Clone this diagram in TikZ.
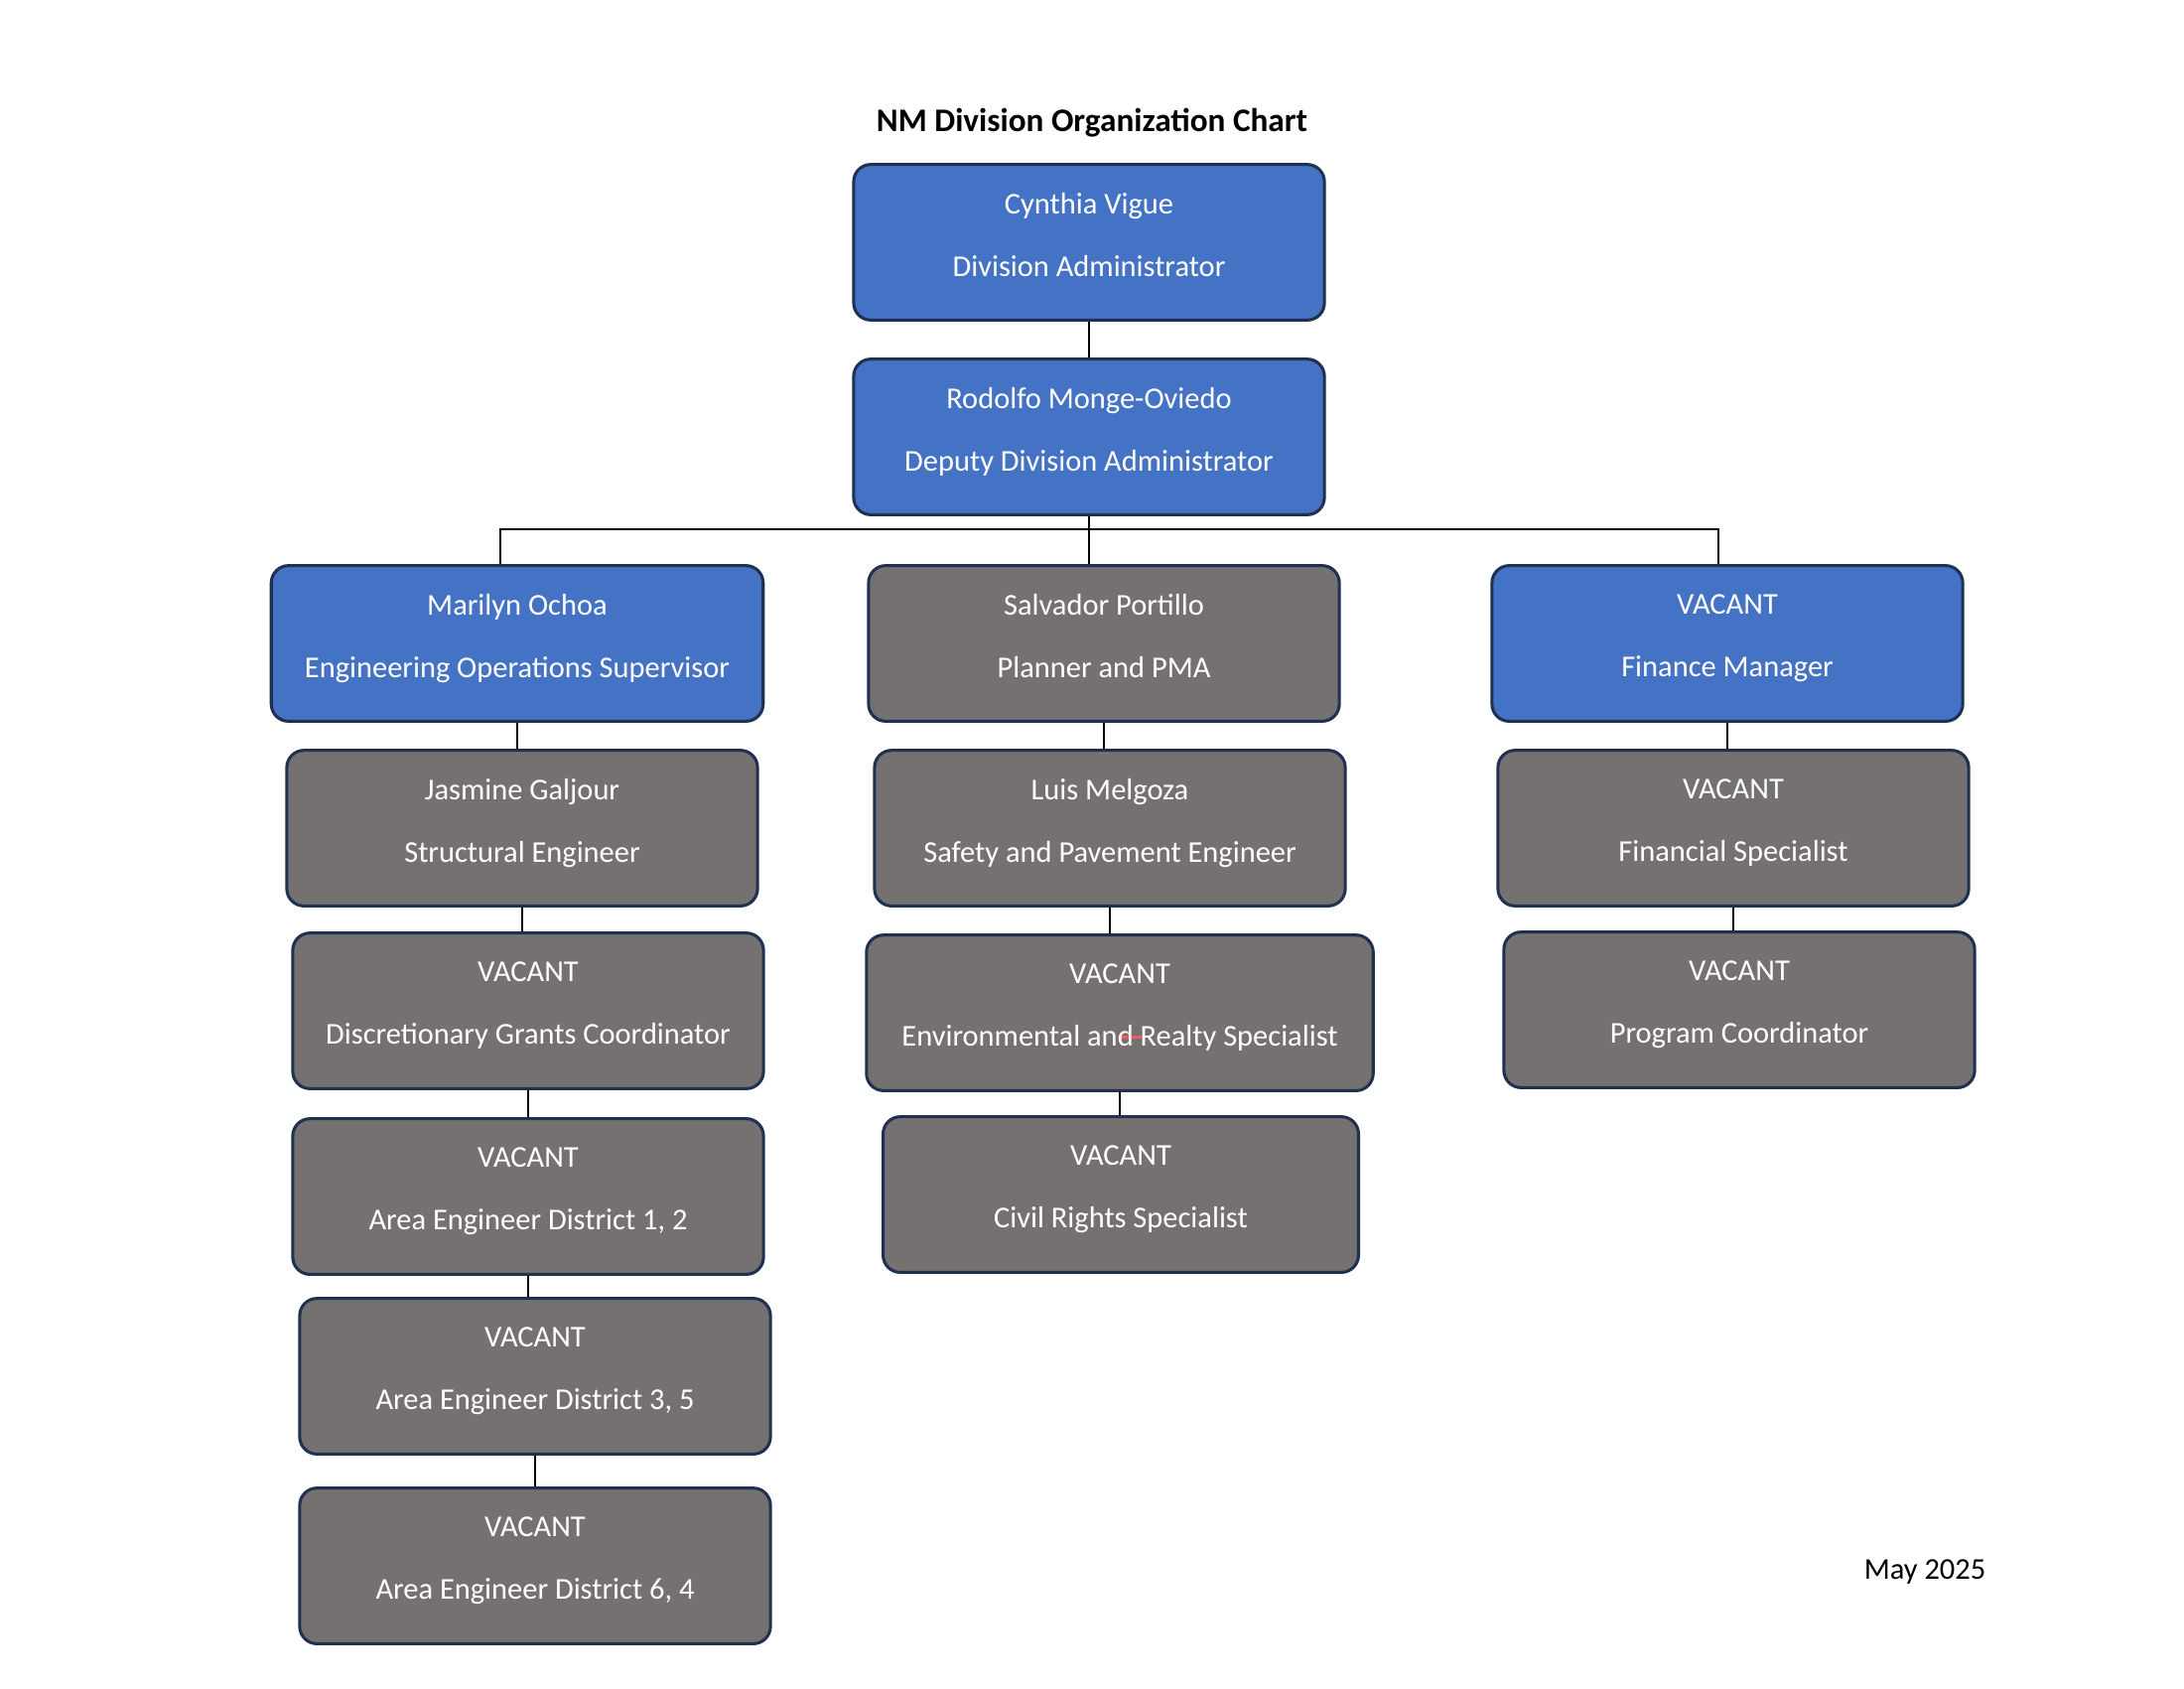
\documentclass[tikz,border=0pt]{standalone}
\usepackage{fontspec}
\setmainfont{Carlito}
\definecolor{boxblue}{HTML}{4472C4}
\definecolor{boxgray}{HTML}{767171}
\definecolor{boxline}{HTML}{1F3050}
\newcommand{\postname}[2]{#1\\[9.2pt]#2\\[-8pt]\mbox{}}
\tikzset{
  post/.style={draw=boxline, line width=1.1pt, rounded corners=0.22cm, text=white,
    align=center, minimum width=6.02cm, minimum height=1.99cm, inner sep=0pt,
    font=\fontsize{11}{13.5}\selectfont},
  lead/.style={post, fill=boxblue},
  staff/.style={post, fill=boxgray},
  link/.style={draw=black, line width=0.45pt}
}
\begin{document}
\begin{tikzpicture}[x=0.0127cm, y=-0.0127cm]
    \useasboundingbox (0,0) rectangle (2200,1700);
    \node[font=\fontsize{12}{14}\selectfont\bfseries] (title) at (1100,124) {NM Division Organization Chart};

    % top of the chart
    \node[lead] (admin) at (1097,244) {\postname{Cynthia Vigue}{Division Administrator}};
    \node[lead] (deputy) at (1097,440) {\postname{Rodolfo Monge-Oviedo}{Deputy Division Administrator}};

    % three branches
    \node[lead, minimum width=6.29cm] (marilyn) at (521,648) {\postname{Marilyn Ochoa}{Engineering Operations Supervisor}};
    \node[staff] (salvador) at (1112,648) {\postname{Salvador Portillo}{Planner and PMA}};
    \node[lead] (finance) at (1740,648) {\postname{VACANT}{Finance Manager}};

    % left column
    \node[staff] (jasmine) at (526,834) {\postname{Jasmine Galjour}{Structural Engineer}};
    \node[staff] (grants) at (532,1018) {\postname{VACANT}{Discretionary Grants Coordinator}};
    \node[staff] (area12) at (532,1205) {\postname{VACANT}{Area Engineer District 1, 2}};
    \node[staff] (area35) at (539,1386) {\postname{VACANT}{Area Engineer District 3, 5}};
    \node[staff] (area64) at (539,1577) {\postname{VACANT}{Area Engineer District 6, 4}};

    % middle column
    \node[staff] (luis) at (1118,834) {\postname{Luis Melgoza}{Safety and Pavement Engineer}};
    \node[staff, minimum width=6.48cm] (enviro) at (1128,1020)
        {\postname{VACANT}{Environmental an\rlap{\color{red!65}\rule[0.24em]{0.8em}{1.2pt}}d Realty Specialist}};
    \node[staff, minimum width=6.08cm] (civil) at (1129,1203) {\postname{VACANT}{Civil Rights Specialist}};

    % right column
    \node[staff] (finspec) at (1746,834) {\postname{VACANT}{Financial Specialist}};
    \node[staff] (progcoord) at (1752,1017) {\postname{VACANT}{Program Coordinator}};

    \node[font=\fontsize{11}{13.5}\selectfont] (date) at (1939,1583) {May 2025};

    % connectors
    \coordinate (bus) at (1093,533);
    \coordinate (busL) at (504,533);
    \coordinate (busR) at (1731,533);
    \draw[link] (deputy.south) -- (deputy.south |- bus);
    \draw[link] (busL |- marilyn.north) -- (busL) -- (busR) -- (busR |- finance.north);
    \foreach \a/\b in {admin/deputy, deputy/salvador, marilyn/jasmine, jasmine/grants, grants/area12,
        area12/area35, area35/area64, salvador/luis, luis/enviro, enviro/civil, finance/finspec, finspec/progcoord}
        \draw[link] (\a.south) -- (\a.south |- \b.north);
\end{tikzpicture}
\end{document}
